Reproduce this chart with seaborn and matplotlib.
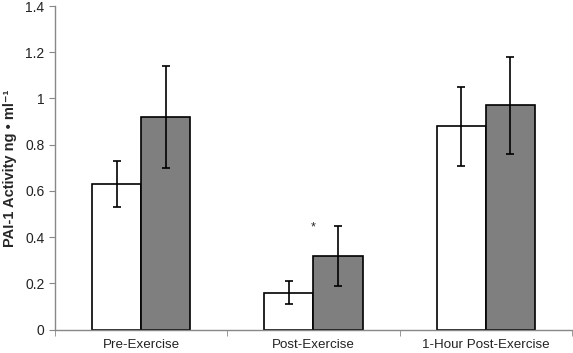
import matplotlib
matplotlib.use("Agg")
import matplotlib.pyplot as plt
import seaborn as sns
import pandas as pd
import numpy as np

categories = ["Pre-Exercise", "Post-Exercise", "1-Hour Post-Exercise"]
groups = ["Group A", "Group B"]
values_a = [0.63, 0.16, 0.88]
values_b = [0.92, 0.32, 0.97]
err_a = [0.10, 0.05, 0.17]
err_b = [0.22, 0.13, 0.21]
yticks = [0, 0.2, 0.4, 0.6, 0.8, 1, 1.2, 1.4]
ytick_labels = ["0", "0.2", "0.4", "0.6", "0.8", "1", "1.2", "1.4"]

df = pd.DataFrame({
    "cat": categories * 2,
    "grp": [groups[0]] * 3 + [groups[1]] * 3,
    "val": values_a + values_b,
    "err": err_a + err_b,
})

sns.set_style("white")
plt.rcParams["font.family"] = ["Liberation Sans", "DejaVu Sans"]

fig = plt.figure(figsize=(5.73, 3.53), dpi=100)
ax = fig.add_axes([0.096, 0.066, 0.902, 0.917])

sns.barplot(data=df, x="cat", y="val", hue="grp", order=categories,
            hue_order=groups, palette=["white", "#7f7f7f"], width=0.57,
            edgecolor="black", linewidth=1.2, errorbar=None, ax=ax,
            legend=False, saturation=1)

# error bars at bar centers
bars = [p for p in ax.patches if p.get_height() > 0]
errs = err_a + err_b
for p, e in zip(bars, errs):
    cx = p.get_x() + p.get_width() / 2
    ax.errorbar(cx, p.get_height(), yerr=e, color="black", capsize=3,
                elinewidth=1.2, capthick=1.2, fmt="none", zorder=5)

# asterisk above Post-Exercise
ax.text(1.0, 0.415, "*", ha="center", va="bottom", fontsize=9)

ax.set_xlim(-0.5, 2.5)
ax.set_ylim(0, 1.4)
ax.set_yticks(yticks)
ax.set_yticklabels(ytick_labels)
ax.set_xlabel("")
ax.set_ylabel("PAI-1 Activity ng • ml⁻¹", fontsize=10.5, fontweight="bold", labelpad=6)

ax.set_xticks([-0.5, 0.5, 1.5, 2.5], minor=True)
ax.tick_params(axis="x", which="major", length=0, labelsize=9.6, pad=7, labelcolor="#222222")
ax.tick_params(axis="x", which="minor", length=4, color="#888888", direction="out", bottom=True)
ax.tick_params(axis="y", which="major", length=4, color="#888888", labelsize=10, left=True,
               labelcolor="#222222")

for s in ["top", "right"]:
    ax.spines[s].set_visible(False)
for s in ["left", "bottom"]:
    ax.spines[s].set_color("#888888")
    ax.spines[s].set_linewidth(1.0)

fig.savefig("out.png", dpi=100)
